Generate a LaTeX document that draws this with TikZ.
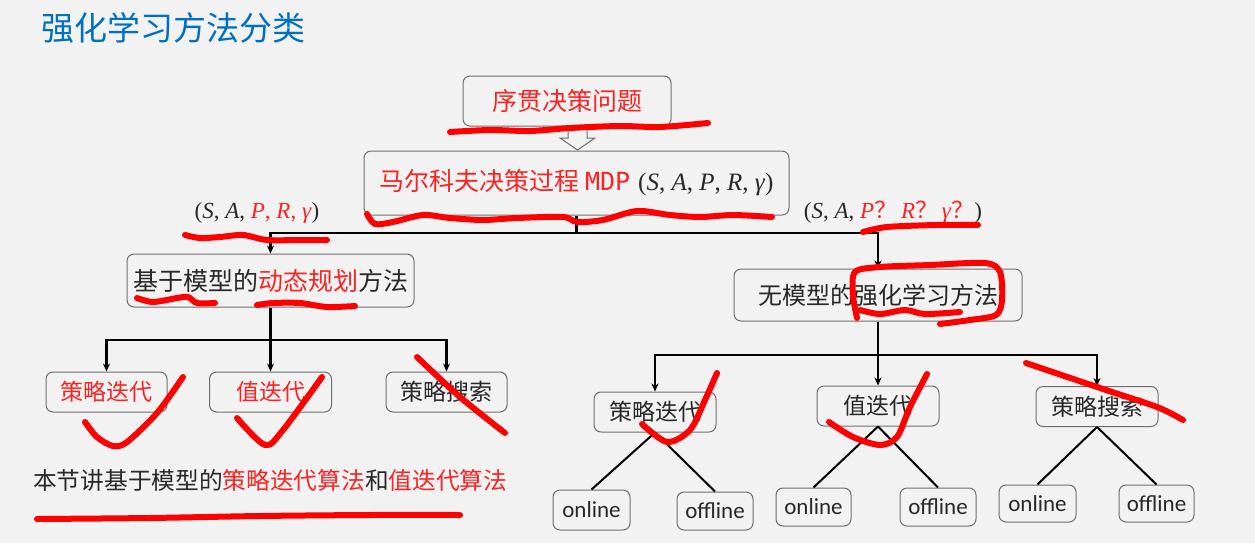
\documentclass[tikz,border=0pt]{standalone}
\usepackage{fontspec}
\usetikzlibrary{arrows.meta}
\newfontfamily\cjk{Noto Sans CJK SC}
\newfontfamily\carl{Carlito}
\newfontfamily\dmono{DejaVu Sans Mono}
\newfontfamily\lserif{Liberation Serif}
\definecolor{bg}{RGB}{242,242,242}
\definecolor{boxgray}{RGB}{110,110,110}
\definecolor{tred}{RGB}{250,35,35}
\definecolor{hred}{RGB}{255,0,0}
\definecolor{tblue}{RGB}{0,112,192}
\definecolor{txt}{RGB}{40,40,40}
\begin{document}
\begin{tikzpicture}[x=1pt,y=-1pt,
  box/.style={draw=boxgray, line width=1pt, rounded corners=7pt, fill=bg, inner sep=0pt, align=center, text=txt},
  cnA/.style={font=\cjk\fontsize{25}{25}\selectfont},
  cnB/.style={font=\cjk\fontsize{24}{24}\selectfont},
  cnC/.style={font=\cjk\fontsize{23}{23}\selectfont},
  lat/.style={font=\carl\fontsize{23}{23}\selectfont},
  lab/.style={font=\lserif\fontsize{23}{23}\selectfont, inner sep=0pt, text=txt},
  conn/.style={draw=black, line width=2.2pt},
  thin/.style={draw=black, line width=2pt},
  arr/.style={conn, -{Stealth[length=8pt,width=7pt]}},
  hand/.style={draw=hred, line width=6pt, line cap=round, line join=round},
]
\fill[bg] (0,0) rectangle (1255,543);
\useasboundingbox (0,0) rectangle (1255,543);

% title
\node[anchor=west, inner sep=0pt, text=tblue, font=\cjk\fontsize{33}{33}\selectfont] (title) at (41,28) {强化学习方法分类};

% top boxes
\node[box, cnA, text=tred, minimum width=208pt, minimum height=50pt] (top) at (567,101) {序贯决策问题};
\node[box, minimum width=425pt, minimum height=64pt] (mdp) at (576.5,183)
  {{\cjk\fontsize{25}{25}\selectfont\color{tred}马尔科夫决策过程 {\dmono MDP}}\hspace{8pt}{\lserif\fontsize{25}{25}\selectfont(\textit{S}, \textit{A}, \textit{P}, \textit{R}, \textit{γ})}};

% hollow block arrow
\draw[draw=boxgray, fill=bg, line width=1pt, line join=miter]
  (568,127) -- (587,127) -- (587,138) -- (595,138) -- (577.5,150) -- (560,138) -- (568,138) -- cycle;

% labels
\node[lab] (labL) at (257,213) {(\textit{S}, \textit{A}, {\color{tred}\textit{P}, \textit{R}, \textit{γ}})};
\node[lab] (labR) at (893,212) {(\textit{S}, \textit{A}, {\color{tred}\textit{P}{\cjk？}\,\textit{R}{\cjk？}\,\textit{γ}{\cjk？}})};

% second level
\node[box, cnA, minimum width=287pt, minimum height=53pt] (mb) at (270.5,280.5) {基于模型的{\color{tred}动态规划}方法};
\node[box, cnB, minimum width=288pt, minimum height=52pt] (mf) at (878,295) {无模型的强化学习方法};

% left leaves
\node[box, cnC, text=tred, minimum width=121pt, minimum height=40pt] (L1) at (106.5,392) {策略迭代};
\node[box, cnC, text=tred, minimum width=122pt, minimum height=40pt] (L2) at (270.5,392) {值迭代};
\node[box, cnC, minimum width=121pt, minimum height=40pt] (L3) at (446.5,392) {策略搜索};

% right leaves
\node[box, cnC, minimum width=122pt, minimum height=40pt] (R1) at (655,412) {策略迭代};
\node[box, cnC, minimum width=122pt, minimum height=40pt] (R2) at (878,406) {值迭代};
\node[box, cnC, minimum width=122pt, minimum height=40pt] (R3) at (1097,406.5) {策略搜索};

% online / offline
\node[box, lat, minimum width=77pt, minimum height=40pt] (on1) at (591.5,510) {online};
\node[box, lat, minimum width=76pt, minimum height=38pt] (off1) at (715,511) {offline};
\node[box, lat, minimum width=75pt, minimum height=38pt] (on2) at (813.5,507) {online};
\node[box, lat, minimum width=76pt, minimum height=38pt] (off2) at (938,507) {offline};
\node[box, lat, minimum width=77pt, minimum height=37pt] (on3) at (1037.5,503.5) {online};
\node[box, lat, minimum width=75pt, minimum height=37pt] (off3) at (1156.5,503.5) {offline};

% bottom note
\node[anchor=west, inner sep=0pt, font=\cjk\fontsize{23.7}{23.7}\selectfont, text=txt] (note) at (33,480)
  {本节讲基于模型的{\color{tred}策略迭代算法}和{\color{tred}值迭代算法}};

% connectors
\coordinate (j1) at (576.5,233);
\draw[conn] (mdp.south) -- (j1);
\draw[arr] (j1) -| (mb.north);
\draw[arr] (j1) -| (mf.north);

\coordinate (j2) at (270.5,340);
\draw[conn] (mb.south) -- (j2);
\draw[arr] (j2) -| (L1.north);
\draw[arr] (j2) -- (L2.north);
\draw[arr] (j2) -| (L3.north);

\coordinate (j3) at (878,355);
\draw[conn] (mf.south) -- (j3);
\draw[arr] (j3) -| (R1.north);
\draw[arr] (j3) -- (R2.north);
\draw[arr] (j3) -| (R3.north);

\draw[thin] (R1.south) -- (on1.north);
\draw[thin] (R1.south) -- (off1.north);
\draw[thin] (R2.south) -- (on2.north);
\draw[thin] (R2.south) -- (off2.north);
\draw[thin] (R3.south) -- (on3.north);
\draw[thin] (R3.south) -- (off3.north);

% hand-drawn red marks
\draw[hand] plot[smooth] coordinates {(450,132) (490,130) (530,131) (570,128) (620,126) (660,127) (708,123)};
\draw[hand] plot[smooth] coordinates {(367,214) (375,224) (393,222) (423,215) (450,218) (483,220) (517,218) (563,217) (577,222) (603,220) (637,211) (670,215) (700,217) (733,215) (772,217)};
\draw[hand] plot[smooth] coordinates {(185,235) (200,238) (220,237) (243,235) (267,240) (300,240) (327,240)};
\draw[hand] plot[smooth] coordinates {(137,298) (153,302) (177,298) (188,297) (197,303) (215,303)};
\draw[hand] plot[smooth] coordinates {(257,305) (273,303) (300,303) (327,307) (355,306)};
\draw[hand] plot[smooth] coordinates {(863,232) (887,227) (937,225) (978,225)};
\draw[hand] plot[smooth] coordinates {(857,318) (853,295) (855,272) (880,267) (930,265) (985,263) (1000,272) (1002,300) (996,315) (970,320) (940,324)};
\draw[hand] plot[smooth] coordinates {(860,310) (880,314) (905,310) (925,314) (960,312)};
\draw[hand] plot[smooth] coordinates {(85,422) (97,437) (113,446) (127,442) (157,413) (183,377)};
\draw[hand] plot[smooth] coordinates {(237,418) (265,445) (283,430) (322,377)};
\draw[hand] plot[smooth] coordinates {(417,357) (460,397) (505,433)};
\draw[hand] plot[smooth] coordinates {(642,424) (667,442) (690,430) (705,400) (717,373)};
\draw[hand] plot[smooth] coordinates {(829,422) (853,437) (880,445) (897,437) (910,407) (927,374)};
\draw[hand] plot[smooth] coordinates {(1026,363) (1100,388) (1157,407) (1183,420)};
\draw[hand] plot[smooth] coordinates {(37,519) (150,518) (260,516) (370,515) (460,515)};
\end{tikzpicture}
\end{document}
